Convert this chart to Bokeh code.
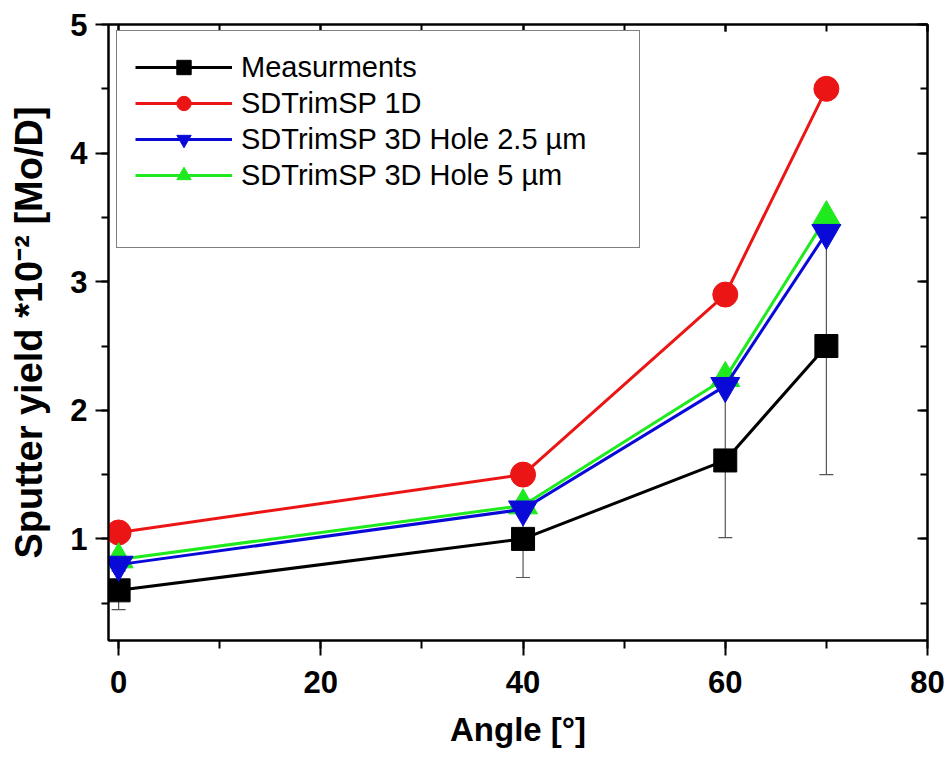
from bokeh.plotting import figure
from bokeh.models import (Range1d, LinearAxis, SingleIntervalTicker, Whisker, TeeHead,
                          ColumnDataSource, Legend, LegendItem, CustomJSTickFormatter)
from bokeh.embed import file_html
from bokeh.resources import INLINE

# ---- data ----
angles = [0, 40, 60, 70]
measurements = [0.60, 1.00, 1.61, 2.50]
measurement_err = [0.15, 0.30, 0.60, 1.00]
sdtrim_1d = [1.05, 1.50, 2.90, 4.50]
sdtrim_3d_hole_25 = [0.80, 1.23, 2.19, 3.38]
sdtrim_3d_hole_5 = [0.84, 1.26, 2.25, 3.50]

series_labels = ["Measurments", "SDTrimSP 1D", "SDTrimSP 3D Hole 2.5 µm", "SDTrimSP 3D Hole 5 µm"]
x_label = "Angle [°]"
y_label = "Sputter yield *10⁻² [Mo/D]"

BLACK = "#000000"
RED = "#ec1515"
BLUE = "#0a0ad8"
GREEN = "#1eea1e"
FONT = "Liberation Sans"

p = figure(width=947, height=760, output_backend="svg", toolbar_location=None,
           x_range=Range1d(-1, 80), y_range=Range1d(0.21, 5.0),
           min_border_left=108, min_border_right=20, min_border_top=24, min_border_bottom=120,
           background_fill_color="white", border_fill_color="white")
p.xgrid.visible = False
p.ygrid.visible = False
p.outline_line_color = "black"
p.outline_line_width = 2

# bottom axis
xa = p.xaxis[0]
xa.ticker = SingleIntervalTicker(interval=20, num_minor_ticks=2)
xa.axis_label = x_label
xa.axis_label_text_font = FONT
xa.axis_label_text_font_size = "33px"
xa.axis_label_text_font_style = "bold"
xa.axis_label_text_color = "black"
xa.major_label_text_font = FONT
xa.major_label_text_font_size = "31px"
xa.major_label_text_font_style = "bold"
xa.major_label_text_color = "black"
xa.major_tick_out = 15
xa.major_tick_in = 0
xa.minor_tick_out = 8
xa.minor_tick_in = 0
xa.axis_line_width = 2
xa.major_tick_line_width = 2
xa.minor_tick_line_width = 2
xa.major_label_standoff = 15
xa.axis_label_standoff = 15

# left axis
ya = p.yaxis[0]
ya.ticker = SingleIntervalTicker(interval=1, num_minor_ticks=2)
ya.axis_label = y_label
ya.axis_label_text_font = FONT
ya.axis_label_text_font_size = "38px"
ya.axis_label_text_font_style = "bold"
ya.axis_label_text_color = "black"
ya.major_label_text_font = FONT
ya.major_label_text_font_size = "31px"
ya.major_label_text_font_style = "bold"
ya.major_label_text_color = "black"
ya.major_tick_out = 13
ya.major_tick_in = 0
ya.minor_tick_out = 7
ya.minor_tick_in = 0
ya.axis_line_width = 2
ya.major_tick_line_width = 2
ya.minor_tick_line_width = 2
ya.major_label_standoff = 8
ya.axis_label_standoff = 17

# mirror axes (ticks inward, no labels)
blank = CustomJSTickFormatter(code="return ''")
ra = LinearAxis(ticker=SingleIntervalTicker(interval=1, num_minor_ticks=2), formatter=blank,
                major_tick_in=10, major_tick_out=0, minor_tick_in=7, minor_tick_out=0,
                axis_line_width=2, major_tick_line_width=2, minor_tick_line_width=2,
                major_label_standoff=0)
p.add_layout(ra, "right")
ta = LinearAxis(ticker=SingleIntervalTicker(interval=20, num_minor_ticks=2), formatter=blank,
                major_tick_in=7, major_tick_out=0, minor_tick_in=7, minor_tick_out=0,
                axis_line_width=2, major_tick_line_width=2, minor_tick_line_width=2,
                major_label_standoff=0)
p.add_layout(ta, "above")

# error bars of the measurements
err_src = ColumnDataSource(dict(
    x=angles,
    upper=[m + e for m, e in zip(measurements, measurement_err)],
    lower=[m - e for m, e in zip(measurements, measurement_err)],
))
wh = Whisker(source=err_src, base="x", upper="upper", lower="lower", dimension="height",
             line_color="#555555", line_width=1.2,
             upper_head=TeeHead(size=14, line_color="#555555", line_width=1.2),
             lower_head=TeeHead(size=14, line_color="#555555", line_width=1.2),
             level="underlay")
p.add_layout(wh)

# series
l0 = p.line(angles, measurements, line_color=BLACK, line_width=3)
s0 = p.scatter(angles, measurements, marker="square", size=23, fill_color=BLACK, line_color=BLACK)
l1 = p.line(angles, sdtrim_1d, line_color=RED, line_width=3)
s1 = p.scatter(angles, sdtrim_1d, marker="circle", size=25, fill_color=RED, line_color=RED)
l3 = p.line(angles, sdtrim_3d_hole_5, line_color=GREEN, line_width=3)
s3 = p.scatter(angles, sdtrim_3d_hole_5, marker="triangle", size=29, fill_color=GREEN, line_color=GREEN)
l2 = p.line(angles, sdtrim_3d_hole_25, line_color=BLUE, line_width=3)
s2 = p.scatter(angles, sdtrim_3d_hole_25, marker="inverted_triangle", size=29, fill_color=BLUE, line_color=BLUE)
dummy = p.line(x=[], y=[], line_alpha=0)

legend = Legend(items=[
    LegendItem(label=series_labels[0], renderers=[l0, s0]),
    LegendItem(label=series_labels[1], renderers=[l1, s1]),
    LegendItem(label=series_labels[2], renderers=[l2, s2]),
    LegendItem(label=series_labels[3], renderers=[l3, s3]),
    LegendItem(label=" ", renderers=[dummy]),
], location=(8, 392), padding=18, spacing=0, label_height=36, glyph_height=36,
    glyph_width=97, label_standoff=9, label_width=380, margin=0,
    border_line_color="black", border_line_width=1.5,
    background_fill_color="white", background_fill_alpha=1,
    label_text_font=FONT, label_text_font_size="29px", label_text_color="black")
p.add_layout(legend)

open("out.html", "w").write(file_html(p, INLINE))
